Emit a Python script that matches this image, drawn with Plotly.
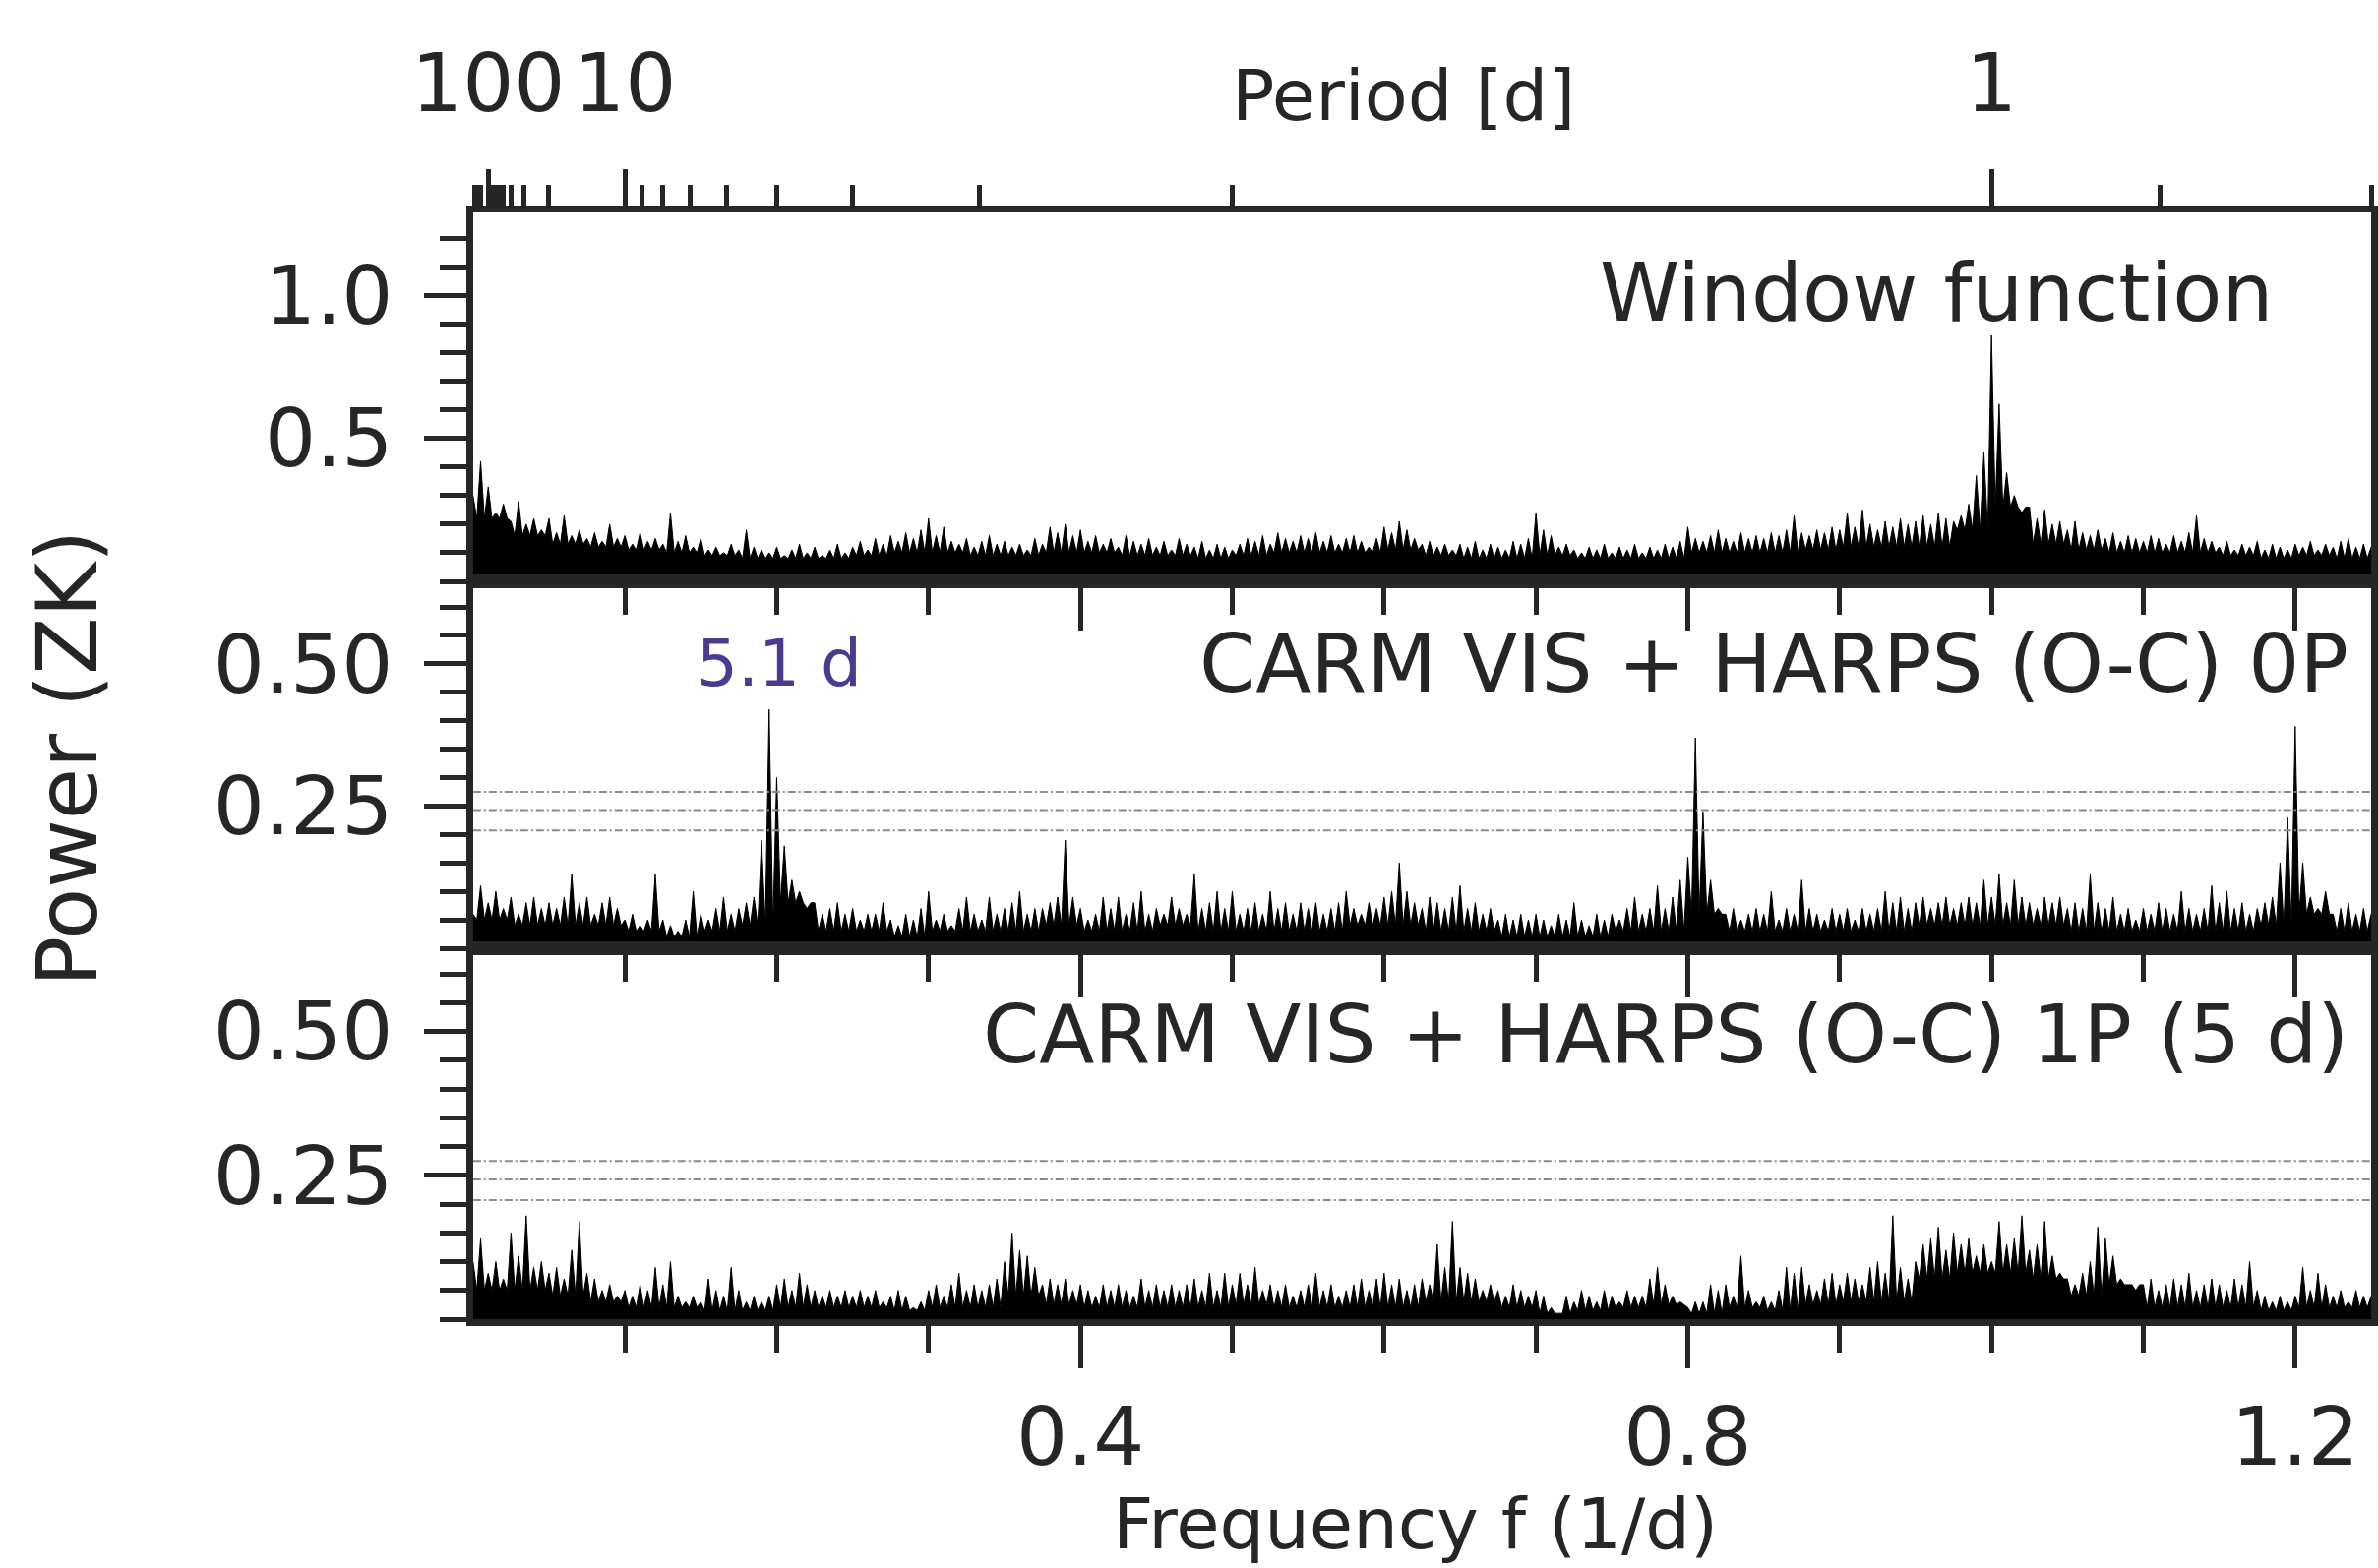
import plotly.graph_objects as go

# ---------------- data ----------------
FREQ_STEP = 0.005          # grid of the periodogram peaks list
FLOOR_STEP = 0.025         # grid of the dense-noise floor list
F_MAX = 1.25

# Panel 1: window function, local peak heights every 0.005 1/d
window_peaks = [
    0.30, 0.42, 0.33, 0.24, 0.27, 0.21, 0.28, 0.20, 0.22, 0.18,
    0.22, 0.17, 0.23, 0.16, 0.18, 0.15, 0.17, 0.14, 0.20, 0.15,
    0.16, 0.13, 0.17, 0.14, 0.15, 0.13, 0.24, 0.14, 0.16, 0.12,
    0.15, 0.11, 0.12, 0.10, 0.13, 0.11, 0.18, 0.12, 0.11, 0.10,
    0.12, 0.09, 0.11, 0.13, 0.10, 0.12, 0.09, 0.11, 0.13, 0.10,
    0.12, 0.14, 0.11, 0.15, 0.13, 0.16, 0.14, 0.17, 0.15, 0.18,
    0.22, 0.16, 0.19, 0.14, 0.13, 0.15, 0.12, 0.14, 0.16, 0.13,
    0.14, 0.12, 0.13, 0.11, 0.15, 0.13, 0.19, 0.17, 0.20, 0.16,
    0.18, 0.14, 0.16, 0.13, 0.15, 0.12, 0.16, 0.14, 0.13, 0.15,
    0.12, 0.14, 0.11, 0.15, 0.13, 0.12, 0.14, 0.11, 0.13, 0.12,
    0.11, 0.13, 0.15, 0.14, 0.16, 0.13, 0.17, 0.15, 0.14, 0.16,
    0.15, 0.17, 0.14, 0.16, 0.13, 0.15, 0.16, 0.14, 0.12, 0.15,
    0.19, 0.17, 0.21, 0.18, 0.15, 0.13, 0.14, 0.12, 0.13, 0.11,
    0.13, 0.12, 0.14, 0.11, 0.13, 0.12, 0.11, 0.14, 0.13, 0.15,
    0.24, 0.18, 0.16, 0.12, 0.13, 0.11, 0.10, 0.12, 0.11, 0.13,
    0.10, 0.12, 0.11, 0.13, 0.10, 0.12, 0.11, 0.13, 0.12, 0.14,
    0.19, 0.15, 0.14, 0.16, 0.18, 0.15, 0.14, 0.17, 0.15, 0.16,
    0.15, 0.17, 0.16, 0.18, 0.23, 0.17, 0.16, 0.18, 0.17, 0.19,
    0.18, 0.24, 0.19, 0.25, 0.20, 0.18, 0.21, 0.19, 0.22, 0.20,
    0.21, 0.23, 0.20, 0.24, 0.22, 0.21, 0.23, 0.27, 0.37, 0.45,
    0.86, 0.62, 0.38, 0.30, 0.24, 0.26, 0.22, 0.25, 0.20, 0.21,
    0.18, 0.21, 0.17, 0.16, 0.18, 0.15, 0.17, 0.14, 0.16, 0.15,
    0.14, 0.16, 0.15, 0.13, 0.16, 0.14, 0.17, 0.23, 0.15, 0.14,
    0.12, 0.14, 0.11, 0.13, 0.12, 0.14, 0.11, 0.13, 0.12, 0.11,
    0.13, 0.12, 0.14, 0.11, 0.13, 0.12, 0.14, 0.15, 0.12, 0.13,
    0.12,
]
window_floor = [
    0.22, 0.16, 0.13, 0.12, 0.11, 0.10, 0.09, 0.08, 0.08, 0.08,
    0.09, 0.10, 0.10, 0.09, 0.09, 0.10, 0.10, 0.09, 0.09, 0.08,
    0.09, 0.10, 0.10, 0.10, 0.11, 0.09, 0.08, 0.08, 0.09, 0.08,
    0.08, 0.08, 0.10, 0.10, 0.10, 0.11, 0.12, 0.12, 0.12, 0.18,
    0.26, 0.13, 0.11, 0.10, 0.10, 0.10, 0.09, 0.08, 0.09, 0.08,
    0.09,
]

# Panel 2: CARM VIS + HARPS (O-C) 0P
res0p_peaks = [
    0.06, 0.11, 0.08, 0.10, 0.07, 0.09, 0.06, 0.08, 0.09, 0.07,
    0.08, 0.07, 0.09, 0.13, 0.08, 0.09, 0.06, 0.08, 0.09, 0.07,
    0.05, 0.06, 0.04, 0.05, 0.13, 0.05, 0.04, 0.03, 0.05, 0.10,
    0.06, 0.05, 0.07, 0.09, 0.06, 0.07, 0.08, 0.09, 0.19, 0.42,
    0.30, 0.18, 0.12, 0.10, 0.07, 0.08, 0.06, 0.07, 0.08, 0.06,
    0.07, 0.05, 0.06, 0.06, 0.08, 0.05, 0.04, 0.06, 0.05, 0.07,
    0.10, 0.05, 0.06, 0.04, 0.07, 0.09, 0.06, 0.05, 0.09, 0.06,
    0.07, 0.08, 0.10, 0.06, 0.07, 0.07, 0.08, 0.09, 0.19, 0.09,
    0.07, 0.05, 0.06, 0.09, 0.07, 0.09, 0.06, 0.08, 0.10, 0.06,
    0.07, 0.06, 0.09, 0.07, 0.06, 0.13, 0.07, 0.08, 0.10, 0.07,
    0.10, 0.06, 0.07, 0.08, 0.06, 0.10, 0.07, 0.08, 0.06, 0.08,
    0.07, 0.08, 0.06, 0.07, 0.08, 0.10, 0.07, 0.06, 0.08, 0.07,
    0.09, 0.10, 0.15, 0.10, 0.08, 0.07, 0.09, 0.08, 0.07, 0.09,
    0.11, 0.07, 0.08, 0.06, 0.07, 0.05, 0.06, 0.05, 0.06, 0.05,
    0.06, 0.05, 0.04, 0.06, 0.05, 0.08, 0.05, 0.04, 0.06, 0.05,
    0.06, 0.05, 0.07, 0.09, 0.06, 0.07, 0.11, 0.07, 0.09, 0.12,
    0.16, 0.37, 0.24, 0.12, 0.07, 0.06, 0.07, 0.05, 0.06, 0.07,
    0.06, 0.10, 0.05, 0.07, 0.06, 0.12, 0.07, 0.06, 0.05, 0.07,
    0.06, 0.07, 0.05, 0.07, 0.06, 0.07, 0.10, 0.08, 0.09, 0.07,
    0.08, 0.09, 0.07, 0.08, 0.09, 0.07, 0.08, 0.09, 0.08, 0.12,
    0.09, 0.13, 0.08, 0.12, 0.09, 0.08, 0.07, 0.09, 0.08, 0.09,
    0.07, 0.08, 0.07, 0.13, 0.08, 0.07, 0.09, 0.06, 0.07, 0.05,
    0.07, 0.06, 0.08, 0.07, 0.06, 0.10, 0.07, 0.06, 0.07, 0.11,
    0.08, 0.10, 0.07, 0.08, 0.06, 0.07, 0.08, 0.09, 0.15, 0.23,
    0.39, 0.15, 0.09, 0.07, 0.10, 0.06, 0.07, 0.08, 0.06, 0.07,
    0.06,
]
res0p_floor = [
    0.05, 0.04, 0.04, 0.04, 0.03, 0.02, 0.03, 0.04, 0.08, 0.03,
    0.03, 0.02, 0.03, 0.03, 0.03, 0.04, 0.03, 0.03, 0.04, 0.03,
    0.03, 0.03, 0.03, 0.04, 0.04, 0.03, 0.03, 0.02, 0.02, 0.02,
    0.03, 0.03, 0.06, 0.03, 0.03, 0.03, 0.03, 0.03, 0.04, 0.04,
    0.04, 0.04, 0.03, 0.03, 0.03, 0.03, 0.03, 0.04, 0.06, 0.03,
    0.03,
]

# Panel 3: CARM VIS + HARPS (O-C) 1P (5 d)
res1p_peaks = [
    0.10, 0.14, 0.08, 0.10, 0.07, 0.15, 0.11, 0.18, 0.09, 0.10,
    0.08, 0.09, 0.07, 0.12, 0.17, 0.08, 0.07, 0.05, 0.06, 0.04,
    0.05, 0.04, 0.06, 0.05, 0.09, 0.06, 0.10, 0.04, 0.03, 0.04,
    0.03, 0.07, 0.05, 0.04, 0.09, 0.05, 0.03, 0.04, 0.03, 0.04,
    0.06, 0.07, 0.05, 0.08, 0.06, 0.05, 0.04, 0.05, 0.04, 0.05,
    0.04, 0.05, 0.04, 0.05, 0.03, 0.04, 0.05, 0.04, 0.02, 0.03,
    0.05, 0.06, 0.04, 0.06, 0.08, 0.05, 0.06, 0.05, 0.06, 0.07,
    0.10, 0.15, 0.12, 0.11, 0.09, 0.06, 0.07, 0.06, 0.07, 0.05,
    0.06, 0.05, 0.04, 0.06, 0.05, 0.06, 0.05, 0.04, 0.07, 0.05,
    0.06, 0.05, 0.06, 0.05, 0.06, 0.07, 0.05, 0.08, 0.05, 0.08,
    0.06, 0.08, 0.06, 0.09, 0.05, 0.06, 0.05, 0.06, 0.04, 0.05,
    0.06, 0.08, 0.05, 0.06, 0.04, 0.05, 0.06, 0.07, 0.05, 0.07,
    0.08, 0.06, 0.07, 0.05, 0.06, 0.07, 0.06, 0.13, 0.09, 0.17,
    0.09, 0.08, 0.07, 0.05, 0.06, 0.05, 0.04, 0.06, 0.05, 0.04,
    0.05, 0.04, 0.02, 0.01, 0.04, 0.03, 0.05, 0.04, 0.03, 0.05,
    0.04, 0.03, 0.05, 0.04, 0.04, 0.07, 0.09, 0.06, 0.04, 0.03,
    0.02, 0.03, 0.03, 0.06, 0.05, 0.06, 0.04, 0.11, 0.05, 0.03,
    0.04, 0.03, 0.05, 0.09, 0.08, 0.09, 0.06, 0.05, 0.07, 0.08,
    0.06, 0.08, 0.07, 0.06, 0.09, 0.10, 0.08, 0.18, 0.09, 0.07,
    0.10, 0.13, 0.14, 0.16, 0.12, 0.15, 0.13, 0.14, 0.11, 0.13,
    0.10, 0.17, 0.13, 0.14, 0.18, 0.12, 0.13, 0.17, 0.11, 0.08,
    0.07, 0.06, 0.08, 0.10, 0.16, 0.14, 0.11, 0.07, 0.06, 0.05,
    0.06, 0.07, 0.05, 0.06, 0.07, 0.06, 0.08, 0.05, 0.06, 0.07,
    0.06, 0.05, 0.07, 0.06, 0.10, 0.05, 0.04, 0.03, 0.04, 0.03,
    0.04, 0.09, 0.05, 0.08, 0.06, 0.04, 0.05, 0.03, 0.05, 0.04,
    0.04,
]
res1p_floor = [
    0.05, 0.05, 0.04, 0.03, 0.02, 0.02, 0.015, 0.015, 0.02, 0.02,
    0.02, 0.015, 0.02, 0.02, 0.04, 0.025, 0.02, 0.02, 0.02, 0.02,
    0.025, 0.02, 0.02, 0.02, 0.02, 0.03, 0.03, 0.02, 0.01, 0.015,
    0.02, 0.025, 0.01, 0.02, 0.015, 0.025, 0.03, 0.03, 0.07, 0.08,
    0.08, 0.07, 0.04, 0.06, 0.02, 0.02, 0.02, 0.015, 0.02, 0.02,
    0.02,
]

# false-alarm-probability levels (dotted lines) in panels 2 and 3
fap_levels = [0.275, 0.243, 0.207]

# top axis: periods [d]
period_major = [100, 10, 1]
period_minor = [900, 800, 700, 600, 500, 400, 300, 200,
                90, 80, 70, 60, 50, 40, 30, 20,
                9, 8, 7, 6, 5, 4, 3, 2, 0.9, 0.8]

freq_major_ticks = [0.4, 0.8, 1.2]
freq_minor_ticks = [0.1, 0.2, 0.3, 0.5, 0.6, 0.7, 0.9, 1.0, 1.1]

panel_texts = ["Window function",
               "CARM VIS + HARPS (O-C) 0P",
               "CARM VIS + HARPS (O-C) 1P (5 d)"]
peak_label = "5.1 d"

# ---------------- figure ----------------
W, H = 2417, 1594
INK = "#262626"
FONT = "DejaVu Sans"


def spectrum(peaks, floor):
    xs, ys = [], []
    n = len(peaks)
    for i, v in enumerate(peaks):
        f = i * FREQ_STEP
        xs.append(f)
        ys.append(v)
        if i < n - 1:
            fm = f + FREQ_STEP / 2
            xs.append(fm)
            ys.append(floor[min(int(fm / FLOOR_STEP), len(floor) - 1)])
    return xs, ys


X_DOM = [480.8 / W, 2410 / W]
Y_DOMS = [[1 - 591 / H, 1 - 216 / H],
          [1 - 964 / H, 1 - 591 / H],
          [1 - 1341 / H, 1 - 964 / H]]

fig = go.Figure()
series = [(window_peaks, window_floor), (res0p_peaks, res0p_floor), (res1p_peaks, res1p_floor)]
for k, (pk, fl) in enumerate(series):
    xs, ys = spectrum(pk, fl)
    ax = "" if k == 0 else str(k + 1)
    fig.add_trace(go.Scatter(x=xs, y=ys, mode="lines", xaxis="x" + ax, yaxis="y" + ax,
                             line=dict(color="black", width=1), fill="tozeroy",
                             fillcolor="black", showlegend=False, hoverinfo="skip"))
    if k > 0:
        for lvl in fap_levels:
            fig.add_trace(go.Scatter(x=[0, F_MAX], y=[lvl, lvl], mode="lines",
                                     xaxis="x" + ax, yaxis="y" + ax,
                                     line=dict(color="#8a8a8a", width=2, dash="8px,3px,2px,3px"),
                                     showlegend=False, hoverinfo="skip"))

tickfont = dict(family=FONT, size=82, color=INK)
common = dict(showline=True, linecolor=INK, linewidth=7, mirror=True, ticks="outside",
              ticklen=43, tickwidth=5, tickcolor=INK, showgrid=False, zeroline=False,
              tickfont=tickfont, automargin=False)

layout = dict(width=W, height=H, margin=dict(l=0, r=0, t=0, b=0, autoexpand=False),
              paper_bgcolor="white", plot_bgcolor="white", showlegend=False)

for k in range(3):
    ax = "" if k == 0 else str(k + 1)
    xa = dict(common, domain=X_DOM, anchor="y" + ax, range=[0, F_MAX],
              tickmode="array", tickvals=freq_major_ticks,
              ticktext=[f"{v:.1f}" for v in freq_major_ticks],
              showticklabels=(k == 2),
              minor=dict(tickmode="array", tickvals=freq_minor_ticks, ticks="outside",
                         ticklen=27, tickwidth=5, tickcolor=INK))
    if k > 0:
        xa["matches"] = "x"
    if k == 0:
        ya = dict(common, domain=Y_DOMS[k], anchor="x" + ax, range=[0, 1.29],
                  tickmode="array", tickvals=[0.5, 1.0], ticktext=["0.5", "1.0"],
                  ticklabelstandoff=15,
                  minor=dict(tickmode="linear", tick0=0, dtick=0.1, ticks="outside",
                             ticklen=27, tickwidth=5, tickcolor=INK))
    else:
        ya = dict(common, domain=Y_DOMS[k], anchor="x" + ax, range=[0, 0.645],
                  tickmode="array", tickvals=[0.25, 0.5], ticktext=["0.25", "0.50"],
                  ticklabelstandoff=15,
                  minor=dict(tickmode="linear", tick0=0, dtick=0.05, ticks="outside",
                             ticklen=27, tickwidth=5, tickcolor=INK))
    layout["xaxis" + ax] = xa
    layout["yaxis" + ax] = ya

# top period axis
layout["xaxis4"] = dict(overlaying="x", anchor="y", side="top", range=[0, F_MAX],
                        domain=X_DOM, showline=False, showgrid=False, zeroline=False,
                        automargin=False, ticklabelstandoff=26,
                        ticks="outside", ticklen=43, tickwidth=5, tickcolor=INK,
                        tickmode="array", tickvals=[1 / p for p in period_major],
                        ticktext=[str(p) for p in period_major], tickfont=tickfont,
                        minor=dict(tickmode="array", tickvals=[1 / p for p in period_minor],
                                   ticks="outside", ticklen=27, tickwidth=5, tickcolor=INK))
fig.add_trace(go.Scatter(x=[], y=[], xaxis="x4", yaxis="y", showlegend=False))

fig.update_layout(**layout)

ann = []
ann.append(dict(text=panel_texts[0], x=2312 / W, y=1 - 297 / H, xanchor="right", yanchor="middle",
                font=dict(family=FONT, size=82, color=INK)))
ann.append(dict(text=panel_texts[1], x=2389 / W, y=1 - 674 / H, xanchor="right", yanchor="middle",
                font=dict(family=FONT, size=82, color=INK)))
ann.append(dict(text=panel_texts[2], x=2389 / W, y=1 - 1051 / H, xanchor="right", yanchor="middle",
                font=dict(family=FONT, size=82, color=INK)))
ann.append(dict(text=peak_label, x=792 / W, y=1 - 674 / H, xanchor="center", yanchor="middle",
                font=dict(family=FONT, size=66, color="#4b3a8f")))
ann.append(dict(text="Power (ZK)", x=69 / W, y=1 - 771 / H, xanchor="center", yanchor="middle",
                textangle=-90, font=dict(family=FONT, size=85, color=INK)))
ann.append(dict(text="Frequency f (1/d)", x=1438 / W, y=1 - 1549 / H, xanchor="center",
                yanchor="middle", font=dict(family=FONT, size=72, color=INK)))
ann.append(dict(text="Period [d]", x=1426 / W, y=1 - 97 / H, xanchor="center",
                yanchor="middle", font=dict(family=FONT, size=72, color=INK)))
for a in ann:
    a.update(xref="paper", yref="paper", showarrow=False)
fig.update_layout(annotations=ann)

fig.write_html("out.html")
